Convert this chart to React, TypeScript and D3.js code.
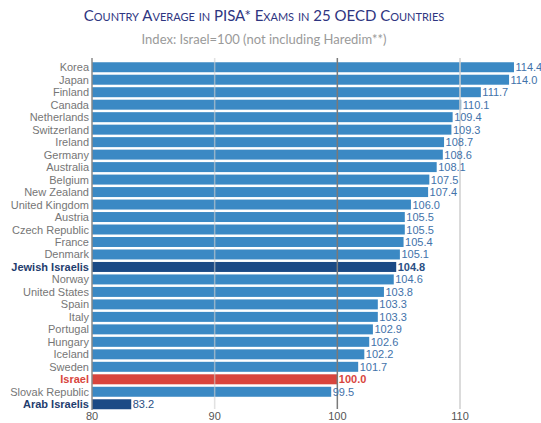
import React from "react";
import * as d3 from "d3";

const countries = [
  "Korea", "Japan", "Finland", "Canada", "Netherlands", "Switzerland", "Ireland",
  "Germany", "Australia", "Belgium", "New Zealand", "United Kingdom", "Austria",
  "Czech Republic", "France", "Denmark", "Jewish Israelis", "Norway", "United States",
  "Spain", "Italy", "Portugal", "Hungary", "Iceland", "Sweden", "Israel",
  "Slovak Republic", "Arab Israelis",
];
const values = [
  114.4, 114.0, 111.7, 110.1, 109.4, 109.3, 108.7, 108.6, 108.1, 107.5, 107.4, 106.0,
  105.5, 105.5, 105.4, 105.1, 104.8, 104.6, 103.8, 103.3, 103.3, 102.9, 102.6, 102.2,
  101.7, 100.0, 99.5, 83.2,
];
const ticks = [80, 90, 100, 110];

const W = 541;
const H = 423;

const barColor = (c: string) =>
  c === "Israel" ? "#d8453d" : c === "Jewish Israelis" || c === "Arab Israelis" ? "#1b4a85" : "#3b89c4";
const labelColor = (c: string) =>
  c === "Israel" ? "#d8453d" : c === "Jewish Israelis" || c === "Arab Israelis" ? "#1f3d6e" : "#767676";
const valueColor = (c: string) =>
  c === "Israel" ? "#d8453d" : c === "Jewish Israelis" || c === "Arab Israelis" ? "#2a4f84" : "#4272aa";
const isSpecial = (c: string) => c === "Israel" || c === "Jewish Israelis" || c === "Arab Israelis";

export default function App() {
  const x = d3.scaleLinear().domain([80, 110]).range([92, 460]);
  const y = d3.scaleBand<string>().domain(countries).range([61, 410.5]).paddingInner(0.2).paddingOuter(0.1);
  const font = "'Liberation Sans', Arial, sans-serif";
  return (
    <svg width={W} height={H} style={{ position: "absolute", left: 0, top: 0, background: "#fff" }}>
      <text
        x={264}
        y={21}
        textAnchor="middle"
        fill="#2e3581"
        style={{ fontFamily: "Lato, 'Open Sans', sans-serif", fontSize: 15, fontVariant: "small-caps" }}
      >
        Country Average in PISA* Exams in 25 OECD Countries
      </text>
      <text
        x={264}
        y={44}
        textAnchor="middle"
        fill="#9a9a9a"
        style={{ fontFamily: "Lato, 'Open Sans', sans-serif", fontSize: 13 }}
      >
        Index: Israel=100 (not including Haredim**)
      </text>
      {countries.map((c, i) => (
        <rect
          key={c}
          x={x(80)}
          y={y(c)}
          width={x(values[i]) - x(80)}
          height={y.bandwidth()}
          fill={barColor(c)}
        />
      ))}
      {ticks.slice(1).map((t) => (
        <line
          key={t}
          x1={x(t)}
          x2={x(t)}
          y1={58}
          y2={409}
          stroke={t === 100 ? "#7a7a7a" : "#cfcfcf"}
          strokeWidth={1.5}
          opacity={t === 90 ? 0.6 : 1}
        />
      ))}
      <line x1={x(80)} x2={x(80)} y1={58} y2={410} stroke="#8a8a8a" strokeWidth={1.5} />
      {countries.map((c) => (
        <text
          key={"l" + c}
          x={89}
          y={(y(c) as number) + y.bandwidth() / 2 + 4}
          textAnchor="end"
          fill={labelColor(c)}
          fontWeight={isSpecial(c) ? "bold" : "normal"}
          style={{ fontFamily: font, fontSize: 11 }}
        >
          {c}
        </text>
      ))}
      {countries.map((c, i) => (
        <text
          key={"v" + c}
          x={x(values[i]) + 1.5}
          y={(y(c) as number) + y.bandwidth() / 2 + 4}
          fill={valueColor(c)}
          fontWeight={c === "Israel" || c === "Jewish Israelis" ? "bold" : "normal"}
          style={{ fontFamily: font, fontSize: 11 }}
        >
          {values[i].toFixed(1)}
        </text>
      ))}
      {ticks.map((t) => (
        <text
          key={"t" + t}
          x={x(t)}
          y={420}
          textAnchor="middle"
          fill="#555"
          style={{ fontFamily: font, fontSize: 11 }}
        >
          {t}
        </text>
      ))}
    </svg>
  );
}
